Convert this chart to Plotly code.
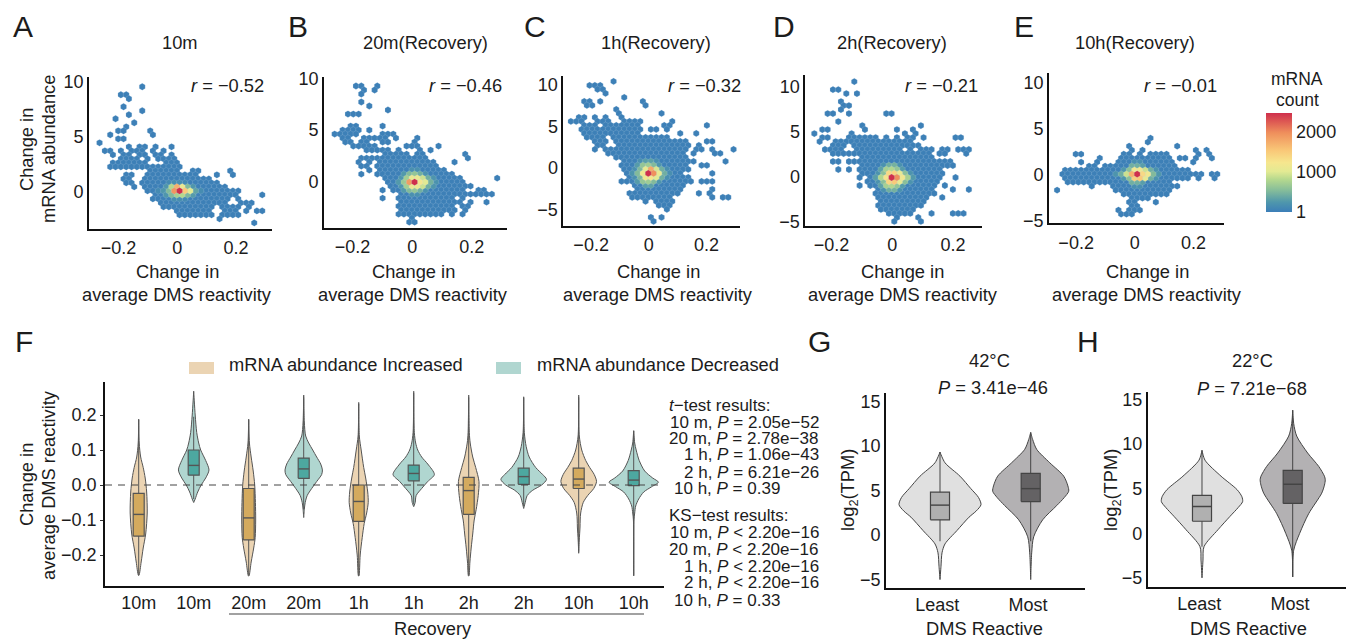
import plotly.graph_objects as go

# ---------- hexbin data: row index -> occupied columns (int or [first,last]) ----------
A_rows = {26:[-7],24:[-11,-10],23:[-10],21:[-11],20:[-7],19:[-10],18:[-12],17:[-9],16:[-10],
 15:[-12,-11,-6],14:[-13,-5],13:[-12,-11],12:[-15],11:[-10,[-8,-7],-5,-2],10:[-14,-13,-11,[-9,-7],-5,-3],
 9:[-13,-11,-10,-8,-7,-5,-4,-2],8:[-11,-10,-9,-8,-6,-4,-3,[-2,-1]],7:[[-13,-7],[-3,-1]],
 6:[-13,[-12,-8],[-7,-6],[-5,0]],5:[[-6,-1],2,3,9],4:[-10,-9,[-6,3],7,10],3:[-11,-10,[-7,5]],
 2:[-10,-9,[-7,7]],1:[-9,[-7,8]],0:[[-6,10],11],-1:[[-5,10],15],-2:[[-5,9],11],-3:[[-4,8],11,12,13],
 -4:[[-3,6],8,9,10,11,13],-5:[[-1,5],[8,10],12,14,15],-6:[[0,6],[8,11]],-7:[7],-8:[14]}
B_rows = {24:[-11,-10,-7],23:[-10,-8],22:[-10],20:[-10],19:[-9],18:[-5],17:[-13,-12,-11],
 14:[-12,-11,-6],13:[-14,[-13,-11],-9],12:[[-15,-13],-12,-11,-6,-5,-4],11:[-14,-13,[-10,-8],-7,-6,-4,0],
 10:[-13,-12,-10,-9,-6,-5,0],9:[-12,[-11,-8],-2,-1,0,4],8:[-9,-8,[-7,-5],-3,1,3],7:[[-6,-4],-3,-2,0,1,9],
 6:[[-10,-8],[-7,-1],[0,2],10],5:[-11,-9,[-7,3],7],4:[-10,-9,[-7,4]],3:[-9,[-7,5]],2:[-10,[-7,7]],
 1:[[-6,8],15],0:[[-5,9]],-1:[[-5,10]],-2:[-6,[-4,9],12,13],-3:[[-3,9],[10,12],13,14],-4:[-6,[-3,7],9],
 -5:[[-3,8],10,13],-6:[[-3,7],9,10],-7:[[-3,7],9],-8:[[-3,5],7,9],-9:[-1],-10:[-1,0]}
C_rows = {23:[-7],22:[-11,-10,-9],21:[-10,-9],20:[-8],19:[-5],18:[-12,-11,-9,-1],17:[-12,-11,-1],16:[-6],
 15:[-6,2],14:[-13,-12,-10,-8,-5],13:[-15,-14,-13,-10,-9,-8,[-5,-2],4],12:[-12,-11,-10,[-8,-5],[-4,-2],3,4,11],
 11:[[-13,-8],[-7,-2],0,1,3],10:[[-12,-10],[-9,-2],6,9],9:[[-12,-9],[-7,-1],[0,3]],8:[-10,-9,-8,[-6,7],11,12],
 7:[-10,-9,[-6,7],9],6:[-10,-8,[-7,7],9,10,12,16],5:[-8,[-7,6],8,12,13],4:[[-6,7]],3:[[-5,8],14],
 2:[[-5,7],10,11],1:[[-5,7]],0:[[-4,6],12],-1:[[-4,7]],-2:[-5,-4,[-3,8],10,11,12],-3:[[-3,6]],-4:[[-2,6],12],
 -5:[-4,[-3,5],9,11],-6:[-3,[-2,4],12,14,15],-7:[-1,[1,4]],-8:[[2,4]],-9:[3],-11:[0,2],-12:[1]}
D_rows = {24:[-7],22:[-11,-10],21:[-9,-7],19:[-10],18:[-9,-8],17:[-10],16:[-12,-11,-8,-1,0],14:[-10],13:[-6,5],
 12:[-13,-12,-5,1,4],11:[-15,-8,2,4],10:[-13,-12,[-8,-5],-4,-3,-1,1,3,4,6,12,13],9:[-14,[-11,-9],[-8,3]],
 8:[-11,-10,-9,[-7,5]],7:[[-13,-10],[-7,1],3,5,6,7,9,10,12,13,14],6:[[-11,-7],[-6,7],9,10,14],5:[[-6,7]],
 4:[-11,-10,-8,-7,[-6,8],[9,11]],3:[[-6,10],11],2:[-10,-8,[-6,9]],1:[[-6,9]],0:[-6,[-4,9],12],-1:[[-5,8]],
 -2:[-6,[-4,8],10],-3:[[-3,7],11,14],-4:[[-3,8]],-5:[[-3,6],9],-6:[[-2,6]],-7:[-3,[-2,5]],-8:[[-2,4]],
 -9:[[-1,3],7,11,12,13],-10:[1,5],-11:[0,5]}
E_rows = {9:[2],8:[2],7:[-2,7],6:[-1,1,11,13],5:[-12,-11,-3,-2,0,[2,5],11,13],4:[-7,[-3,6],8,9,11,14],
 3:[-11,-8,[-4,6],10],2:[-9,-8,[-6,7]],1:[[-14,9]],0:[[-14,10],11,12,14,15],-1:[[-14,9],11,14],
 -2:[[-13,6]],-3:[-9,[-5,7]],-4:[-15,[-4,6]],-5:[[-3,5]],-6:[[-1,2]],-7:[-2,-1,3],-8:[-1,0],-9:[-4,-2,-1,0],-10:[-3,-2,-1]}

# ---------- per-cell counts in the dense centre: (row, column, mRNA count) ----------
A_core = [(0,0,2450),(0,-1,1900),(0,1,1500),(0,2,1000),(0,-2,520),(0,-3,240),(0,3,340),(1,-1,1700),(1,0,1100),
 (1,-2,800),(1,-3,240),(1,1,520),(1,2,240),(-1,-1,720),(-1,-2,520),(-1,0,800),(-1,1,500),(-1,2,280),(-1,-3,240),
 (2,-1,160),(2,0,160),(2,-2,120),(2,1,120),(-2,-1,160),(-2,0,160),(-2,1,120),(0,4,140),(0,-4,120)]
B_core = [(0,0,2450),(0,-1,1850),(0,1,1200),(0,2,1000),(0,-2,650),(0,3,450),(0,-3,260),(0,4,200),
 (1,-2,700),(1,-1,1100),(1,0,1100),(1,1,900),(1,2,430),(1,3,230),(1,-3,240),(-1,-2,700),(-1,-1,1100),(-1,0,1100),
 (-1,1,900),(-1,2,430),(-1,3,230),(-1,-3,240),(2,-1,520),(2,0,620),(2,1,430),(2,-2,260),(2,2,200),
 (-2,-1,520),(-2,0,620),(-2,1,430),(-2,-2,260),(-2,2,200),(3,-1,180),(3,0,180),(-3,-1,180),(-3,0,180)]
C_core = [(0,0,2450),(0,1,1950),(1,0,1750),(1,-1,1050),(1,1,950),(0,-1,1150),(0,2,1050),(-1,-1,1150),(-1,0,1200),
 (-1,1,1000),(0,-2,520),(0,3,420),(1,-2,500),(1,2,430),(-1,-2,480),(-1,2,430),(2,-1,620),(2,0,680),(2,1,520),
 (-2,-1,620),(-2,0,680),(-2,1,520),(3,-1,300),(3,0,320),(3,-2,170),(3,1,170),(-3,-1,300),(-3,0,320),(2,-2,280),(2,2,230),
 (-2,-2,280),(-2,2,230),(0,-3,220),(0,4,170),(1,-3,170),(1,3,170),(-1,-3,170),(-1,3,170)]
D_core = [(0,0,2450),(0,1,1950),(0,-1,1250),(0,2,1150),(1,-1,1350),(1,0,1400),(1,1,1050),(-1,-1,1400),(-1,0,1500),
 (-1,1,1050),(0,-2,780),(0,3,720),(1,-2,560),(1,2,560),(-1,-2,560),(-1,2,560),(2,-1,720),(2,0,780),(2,1,620),
 (-2,-1,720),(-2,0,780),(-2,1,620),(3,-1,420),(3,0,450),(-3,-1,420),(-3,0,450),(2,-2,320),(2,2,280),(-2,-2,320),
 (-2,2,280),(0,-3,300),(0,4,260),(1,-3,210),(1,3,210),(-1,-3,210),(-1,3,210),(3,-2,190),(3,1,190),(-3,-2,190),(-3,1,190)]
E_core = [(0,0,2450),(0,-1,1700),(0,1,1350),(0,2,1150),(0,-2,900),(0,3,520),(0,-3,420),(1,-1,1150),(1,0,1150),
 (1,1,900),(1,-2,560),(1,2,420),(-1,-1,1450),(-1,0,1500),(-1,1,1050),(-1,-2,560),(-1,2,430),(2,-1,430),(2,0,430),
 (2,1,300),(-2,-1,430),(-2,0,430),(-2,1,300),(0,4,240),(0,-4,220),(1,-3,240),(1,3,200),(-1,-3,240),(-1,3,200),(3,-1,170),(3,0,170),(-3,-1,170),(-3,0,170)]
background_count = 20

# bin origin and bin widths of each hexbin: x0, y0, dx, dy
A_bins = (0.008, 0.06, 0.01814, 0.364)
B_bins = (0.008, -0.06, 0.01788, 0.39)
C_bins = (-0.002, -0.64, 0.0185, 0.48)
D_bins = (-0.002, -0.11, 0.01753, 0.444)
E_bins = (0.008, 0.04, 0.0182, 0.433)

xtick_vals = [-0.2, 0, 0.2]
xtick_text = ["−0.2", "0", "0.2"]
A_yticks = [0, 5, 10]
B_yticks = [0, 5, 10]
C_yticks = [-5, 0, 5, 10]
D_yticks = [-5, 0, 5, 10]
E_yticks = [-5, 0, 5, 10]
hex_titles = ["10m", "20m(Recovery)", "1h(Recovery)", "2h(Recovery)", "10h(Recovery)"]
hex_r = ["−0.52", "−0.46", "−0.32", "−0.21", "−0.01"]

# ---------- panel F ----------
F_labels = ["10m","10m","20m","20m","1h","1h","2h","2h","10h","10h"]
F_increased = [True, False]*5
F_q1 = [-0.146,0.028,-0.157,0.019,-0.104,0.012,-0.084,0.002,-0.010,-0.002]
F_med = [-0.084,0.056,-0.094,0.046,-0.047,0.033,-0.016,0.024,0.017,0.014]
F_q3 = [-0.024,0.100,-0.010,0.077,0.000,0.057,0.022,0.048,0.048,0.041]
F_low = [-0.258,-0.040,-0.258,-0.070,-0.258,-0.055,-0.258,-0.060,-0.190,-0.258]
F_high = [0.186,0.195,0.186,0.250,0.232,0.262,0.250,0.248,0.250,0.155]
F_y = [
 [.188,.12,.08,.05,.02,-.02,-.08,-.14,-.18,-.22,-.258],
 [.268,.2,.15,.12,.1,.07,.043,.02,0,-.02,-.04,-.05],
 [.188,.12,.08,.04,0,-.05,-.1,-.15,-.18,-.22,-.26],
 [.257,.18,.14,.12,.1,.08,.06,.043,.03,.01,-.01,-.03,-.05,-.07,-.093],
 [.236,.14,.1,.05,.02,-.02,-.05,-.08,-.11,-.15,-.2,-.26],
 [.268,.15,.12,.1,.08,.06,.03,.01,-.01,-.03,-.05,-.062],
 [.257,.15,.12,.08,.05,.01,-.03,-.07,-.1,-.14,-.18,-.22,-.26],
 [.252,.15,.11,.08,.05,.03,.016,0,-.015,-.03,-.05,-.067],
 [.257,.14,.1,.07,.05,.03,.01,-.01,-.03,-.05,-.08,-.1,-.12,-.16,-.195],
 [.155,.12,.1,.07,.04,.02,.008,-.005,-.02,-.04,-.06,-.08,-.1,-.26]]
# half-widths of each violin, in category units
F_w = [
 [0,.009,.036,.082,.118,.145,.155,.127,.082,.045,.005],
 [0,.027,.055,.091,.127,.218,.278,.218,.136,.073,.027,0],
 [0,.013,.045,.082,.109,.122,.127,.118,.091,.045,.005],
 [0,.011,.036,.091,.164,.236,.309,.34,.327,.236,.145,.064,.027,.011,0],
 [0,.011,.045,.091,.127,.164,.173,.145,.1,.064,.027,.004],
 [0,.011,.036,.073,.145,.255,.376,.255,.145,.045,.027,0],
 [0,.011,.027,.073,.127,.187,.173,.136,.1,.073,.045,.022,.004],
 [0,.011,.045,.1,.218,.345,.415,.327,.164,.064,.027,0],
 [0,.011,.055,.127,.2,.282,.324,.273,.164,.082,.036,.027,.024,.009,0],
 [0,.018,.045,.1,.2,.345,.449,.327,.182,.091,.036,.018,.005,0]]

# ---------- panels G, H ----------
GH_labels = ["Least", "Most"]
GH_label_pos = [-0.03, 0.97]
G_q1 = [1.7, 3.75]; G_med = [3.35, 5.2]; G_q3 = [4.8, 6.9]
G_low = [-0.7, -0.7]; G_high = [9.3, 11.5]
H_q1 = [1.35, 3.35]; H_med = [3.0, 5.5]; H_q3 = [4.25, 7.05]
H_low = [-1.5, -4.9]; H_high = [9.3, 13.8]
G_y = [[9.3,8.1,6.6,5.2,4.2,3.4,2.7,2,.5,-1,-2,-3.5,-5],[11.5,10.7,9.6,8.1,6.6,5.5,4.9,4.2,3.3,1.7,-.2,-2,-5]]
G_w = [[0,.055,.22,.34,.425,.452,.40,.32,.187,.055,.022,.011,0],[0,.022,.066,.21,.364,.41,.419,.37,.287,.132,.033,.011,0]]
H_y = [[9.3,8.2,6.4,4.9,4.1,3.55,2.9,1.9,.4,-1.5,-3,-5],[13.8,12.3,10.9,9,7.5,6.4,6,5.4,4.5,2.2,0,-1.9,-4.9]]
H_w = [[0,.033,.21,.386,.44,.448,.40,.309,.176,.022,.011,0],[0,.011,.044,.165,.287,.35,.359,.35,.32,.176,.077,.011,0]]

W, H = 1346, 639
def px(x): return x/W
def py(y): return 1-y/H
INK = "#1c1c1c"
FONT = "Liberation Sans"
TXT = 18.3
fig = go.Figure()
ann = []
shapes = []
def text(x, y, s, size=TXT, anchor="center", angle=0):
    ann.append(dict(x=px(x), y=py(y), xref="paper", yref="paper", text=s, showarrow=False, xanchor=anchor, yanchor="middle",
                    font=dict(size=size, family=FONT, color=INK), textangle=angle))

def axes(n, left, right, top, bottom, xr, yr, xt, xl, yt, yl=None, yticks="", standoff=2):
    s = "" if n == 1 else str(n)
    common = dict(showgrid=False, zeroline=False, showline=True, linecolor="#111", linewidth=1.6,
                  tickfont=dict(size=18, family=FONT, color=INK))
    fig.layout["xaxis"+s] = dict(domain=[px(left), px(right)], range=xr, anchor="y"+s, tickvals=xt, ticktext=xl, ticks="", ticklabelstandoff=standoff, **common)
    fig.layout["yaxis"+s] = dict(domain=[py(bottom), py(top)], range=yr, anchor="x"+s, tickvals=yt, ticktext=yl, ticks=yticks, ticklen=3, tickcolor="#333", **common)

def expand(rows, core, bins):
    x0, y0, dx, dy = bins
    counts = {}
    for k, spans in rows.items():
        for sp in spans:
            a, b = (sp if isinstance(sp, list) else (sp, sp))
            for i in range(a, b+1):
                counts[(k, i)] = background_count
    for k, i, c in core:
        counts[(k, i)] = c
    cells = sorted(counts.items(), key=lambda t: t[1])
    xs = [x0 + dx*(i + (0.5 if k % 2 else 0)) for (k, i), _ in cells]
    ys = [y0 + dy*k for (k, i), _ in cells]
    return xs, ys, [c for _, c in cells]

# geometry: left,right,top,bottom, x-zero px, px per x-unit, y-zero px, px per y-unit
hex_panels = [
 (A_rows, A_core, A_bins, A_yticks, 89, 272, 77, 228.5, 177.2, 294, 191.5, 11, 177, 227, "A", 11),
 (B_rows, B_core, B_bins, B_yticks, 324, 506.7, 77, 228, 412.2, 298, 181.5, 10.27, 413, 465, "B", 285.5),
 (C_rows, C_core, C_bins, C_yticks, 563.3, 740, 76, 226, 648.8, 288.3, 168, 8.33, 658, 704, "C", 522),
 (D_rows, D_core, D_bins, D_yticks, 805.3, 981.7, 75.3, 226, 892.2, 304, 176.5, 9, 903, 941.7, "D", 771),
 (E_rows, E_core, E_bins, E_yticks, 1049, 1224.3, 72.7, 223.3, 1134.8, 293.3, 174.5, 9.23, 1147, 1180.7, "E", 1012),
]
title_x = [180, 425, 655.7, 892, 1135]
for n, p in enumerate(hex_panels, 1):
    rows, core, bins, yt, l, r, t, b, x0p, xs, y0p, ys, xlab, rx, letter, lx = p
    X, Y, C = expand(rows, core, bins)
    s = "" if n == 1 else str(n)
    fig.add_trace(go.Scatter(x=X, y=Y, mode="markers", xaxis="x"+s, yaxis="y"+s, showlegend=False, hoverinfo="skip",
        marker=dict(symbol="hexagon", size=6.8, color=C, coloraxis="coloraxis",
                    line=dict(width=0.35, color="rgba(190,215,235,0.55)"))))
    axes(n, l, r, t, b, [(l-x0p)/xs, (r-x0p)/xs], [(y0p-b)/ys, (y0p-t)/ys], xtick_vals, xtick_text, yt,
         [str(v).replace("-", "−") for v in yt])
    text(lx, 27, letter, size=30, anchor="left")
    text(title_x[n-1], 42, hex_titles[n-1])
    text(rx, 86, "<i>r</i> = "+hex_r[n-1])
    text(xlab, 272, "Change in")
    text(xlab, 294, "average DMS reactivity")

text(26, 150, "Change in", angle=-90)
text(48, 149, "mRNA abundance", angle=-90)
text(1297, 79, "mRNA", size=17.5)
text(1297, 100, "count", size=17.5)

# ---------- F ----------
F_pos = list(range(len(F_labels)))
INC, DEC, INCB, DECB = "#ebd4b3", "#b0d6d0", "#d4aa5e", "#4da8a0"
fL, fR, fT, fB = 105, 664, 382, 586
axes(6, fL, fR, fT, fB, [(fL-138.7)/55, (fR-138.7)/55], [(485-fB)/350, (485-fT)/350], F_pos, F_labels,
     [-0.2,-0.1,0,0.1,0.2], ["−0.2","−0.1","0.0","0.1","0.2"], yticks="outside", standoff=0)
def violin(xa, ya, c, ys, ws, fill, boxfill, q1, med, q3, lo, hi, bw, lc="#555"):
    common = dict(xaxis=xa, yaxis=ya, showlegend=False, hoverinfo="skip", mode="lines")
    vx = [c+w for w in ws] + [c-w for w in reversed(ws)] + [c+ws[0]]
    vy = list(ys) + list(reversed(ys)) + [ys[0]]
    fig.add_trace(go.Scatter(x=vx, y=vy, fill="toself", fillcolor=fill,
        line=dict(color=lc, width=1, shape="spline", smoothing=0.8), **common))
    # whisker line, box and median from the box statistics
    fig.add_trace(go.Scatter(x=[c, c], y=[lo, hi], line=dict(color=lc, width=1), **common))
    h = bw/2
    fig.add_trace(go.Scatter(x=[c-h, c+h, c+h, c-h, c-h], y=[q1, q1, q3, q3, q1], fill="toself", fillcolor=boxfill,
        line=dict(color=lc, width=1.2), **common))
    fig.add_trace(go.Scatter(x=[c-h, c+h], y=[med, med], line=dict(color=lc, width=1.4), **common))
for i in F_pos:
    violin("x6", "y6", i, F_y[i], F_w[i], INC if F_increased[i] else DEC, INCB if F_increased[i] else DECB,
           F_q1[i], F_med[i], F_q3[i], F_low[i], F_high[i], 0.2)
shapes.append(dict(type="line", xref="paper", yref="paper", x0=px(fL), x1=px(fR), y0=py(485), y1=py(485),
                   line=dict(color="#444", width=1, dash="7px,6px"), layer="above"))
shapes.append(dict(type="rect", xref="paper", yref="paper", x0=px(189), x1=px(214), y0=py(362), y1=py(374), fillcolor=INC, line=dict(width=0)))
shapes.append(dict(type="rect", xref="paper", yref="paper", x0=px(496), x1=px(521), y0=py(362), y1=py(374), fillcolor=DEC, line=dict(width=0)))
shapes.append(dict(type="line", xref="paper", yref="paper", x0=px(229), x1=px(644), y0=py(614), y1=py(614), line=dict(color="#444", width=1.2)))
text(227, 364, "mRNA abundance Increased", anchor="left")
text(534.5, 364, "mRNA abundance Decreased", anchor="left")
text(433, 628, "Recovery")
text(13, 342, "F", size=30, anchor="left")
text(26, 485, "Change in", angle=-90)
text(48, 485, "average DMS reactivity", angle=-90)
stat_lines = [(667,405,"<i>t</i>−test results:"),(668,422,"10 m, <i>P</i> = 2.05e−52"),(667,438,"20 m, <i>P</i> = 2.78e−38"),
 (682,455,"1 h, <i>P</i> = 1.06e−43"),(682,472,"2 h, <i>P</i> = 6.21e−26"),(672,488,"10 h, <i>P</i> = 0.39"),
 (667,515,"KS−test results:"),(668,532,"10 m, <i>P</i> &lt; 2.20e−16"),(667,549,"20 m, <i>P</i> &lt; 2.20e−16"),
 (682,566,"1 h, <i>P</i> &lt; 2.20e−16"),(682,582,"2 h, <i>P</i> &lt; 2.20e−16"),(672,600,"10 h, <i>P</i> = 0.33")]
for x, y, s in stat_lines:
    text(x, y, s, size=17, anchor="left")

# ---------- G, H ----------
GH_fill = ["#e0e0e0", "#b3b1b3"]
GH_box = ["#b0b0b0", "#646264"]
gh = [(7, 886, 1085, 393, 588, 940, 535, G_y, G_w, G_q1, G_med, G_q3, G_low, G_high),
      (8, 1147.7, 1346, 391.7, 586.7, 1202, 533.3, H_y, H_w, H_q1, H_med, H_q3, H_low, H_high)]
for n, l, r, t, b, c0, y0, ys, ws, q1, med, q3, lo, hi in gh:
    axes(n, l, r, t, b, [(l-c0)/90.7, (r-c0)/90.7], [(y0-b)/8.92, (y0-t)/8.92], GH_label_pos, GH_labels,
         [-5,0,5,10,15], ["−5","0","5","10","15"], standoff=0)
    for i in range(2):
        violin(f"x{n}", f"y{n}", i, ys[i], ws[i], GH_fill[i], GH_box[i], q1[i], med[i], q3[i], lo[i], hi[i], 0.21, lc="#444")
text(806, 342, "G", size=30, anchor="left")
text(1075, 342, "H", size=30, anchor="left")
text(989, 360, "42°C"); text(992.7, 387, "<i>P</i> = 3.41e−46")
text(1252, 360, "22°C"); text(1252, 388, "<i>P</i> = 7.21e−68")
text(849, 490, "log<sub>2</sub>(TPM)", angle=-90); text(1112, 490, "log<sub>2</sub>(TPM)", angle=-90)
text(985, 628, "DMS Reactive"); text(1248, 628, "DMS Reactive")

# white colour-bar marks on both edges
for v in [1, 500, 1000, 1500, 2000]:
    yy = 211 - v*0.04
    for a, b in ((1266, 1271), (1287, 1292)):
        shapes.append(dict(type="line", xref="paper", yref="paper", x0=px(a), x1=px(b), y0=py(yy), y1=py(yy), line=dict(color="white", width=1), layer="above"))

fig.update_layout(width=W, height=H, autosize=False, margin=dict(l=0, r=0, t=0, b=0, autoexpand=False), paper_bgcolor="white", plot_bgcolor="white",
    annotations=ann, shapes=shapes,
    coloraxis=dict(cmin=1, cmax=2450, colorscale=[[0,"#3b7eb8"],[0.1,"#4f97ac"],[0.22,"#86bd9a"],[0.33,"#b6d98e"],[0.41,"#e3ea93"],
                   [0.5,"#f6e68e"],[0.62,"#f9c878"],[0.8,"#ef8f5c"],[1,"#cf2f4c"]],
        colorbar=dict(x=px(1266), xanchor="left", xpad=0, y=py(212), yanchor="bottom", ypad=0, len=99, lenmode="pixels",
                      thickness=26, thicknessmode="pixels", outlinewidth=0, tickvals=[1,1000,2000], ticktext=["1","1000","2000"],
                      ticks="", tickfont=dict(size=18, family=FONT, color=INK))))
fig.write_html("out.html", config=dict(displayModeBar=False), post_script="document.body.style.margin='0';window.dispatchEvent(new Event('resize'));")
